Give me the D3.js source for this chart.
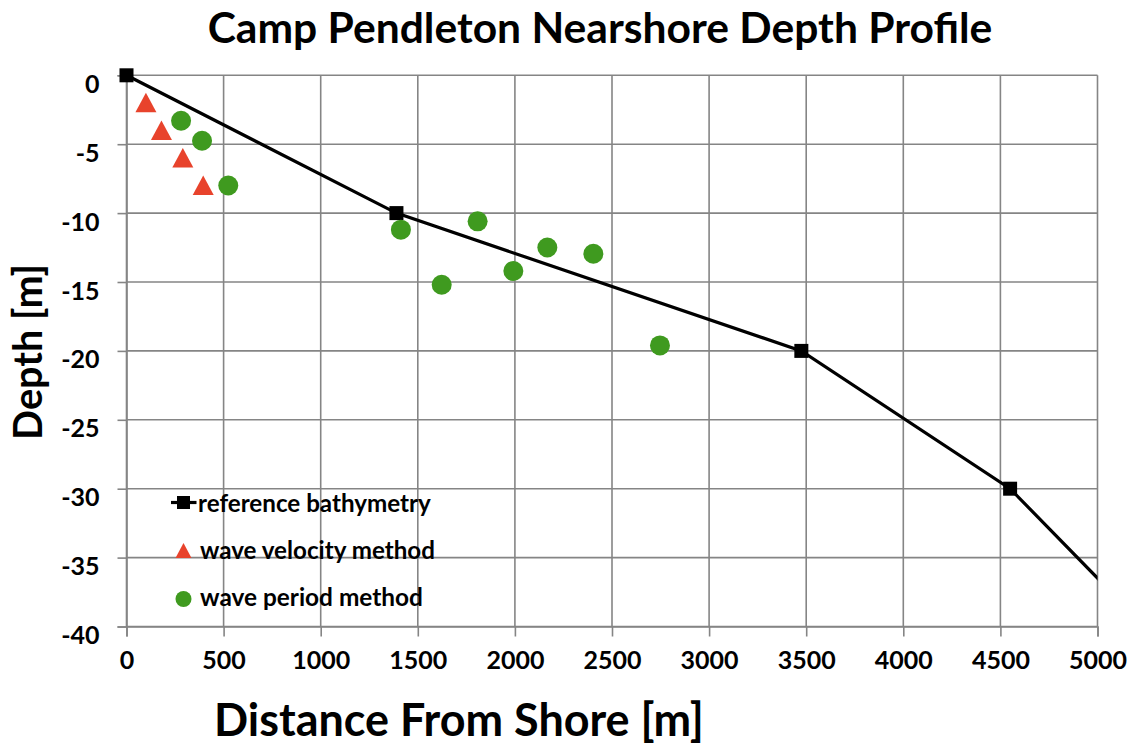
<!DOCTYPE html>
<html>
<head>
<meta charset="utf-8">
<script src="https://cdn.jsdelivr.net/npm/d3@7/dist/d3.min.js"></script>
<style>
  html, body { margin: 0; padding: 0; background: #fff; }
  svg { display: block; font-family: Lato, "Open Sans", sans-serif; font-weight: bold; }
</style>
</head>
<body>
<svg id="chart" width="1135" height="745"></svg>
<script>
// Reference bathymetry profile (distance from shore [m], depth [m])
const bathyDistance = [0, 1390, 3475, 4550, 5500];
const bathyDepth    = [0, -10, -20, -30, -43.7];

// Depth estimates from the wave velocity method
const velocityDistance = [100, 180, 290, 395];
const velocityDepth    = [-2, -4, -6, -8];

// Depth estimates from the wave period method
const periodDistance = [281, 389, 524, 1413, 1808, 1623, 1992, 2167, 2404, 2747];
const periodDepth    = [-3.3, -4.75, -8.0, -11.2, -10.6, -15.2, -14.2, -12.5, -12.95, -19.6];

const xTicks = [0, 500, 1000, 1500, 2000, 2500, 3000, 3500, 4000, 4500, 5000];
const yTicks = [0, -5, -10, -15, -20, -25, -30, -35, -40];

const legendLabels = ["reference bathymetry", "wave velocity method", "wave period method"];
const titleText = "Camp Pendleton Nearshore Depth Profile";
const xLabelText = "Distance From Shore [m]";
const yLabelText = "Depth [m]";

const RED = "#e8432c";
const GREEN = "#3f9a1f";
const GRID = "#858585";

const svg = d3.select("#chart");
const plot = { left: 126.5, right: 1097.5, top: 75.3, bottom: 626.5 };

const x = d3.scaleLinear().domain([0, 5000]).range([plot.left, plot.right]);
const y = d3.scaleLinear().domain([0, -40]).range([plot.top, plot.bottom]);

// Fit a text element's font size so it spans a given width
function fitWidth(sel, width) {
  const node = sel.node();
  const size = parseFloat(sel.attr("font-size"));
  const w = node.getComputedTextLength();
  sel.attr("font-size", size * width / w);
}

// Plain hyphen-minus tick labels
const plainFormat = d => String(d);

// Grid
svg.append("g").selectAll("line.v").data(xTicks).join("line")
  .attr("x1", d => x(d)).attr("x2", d => x(d))
  .attr("y1", plot.top).attr("y2", plot.bottom)
  .attr("stroke", GRID).attr("stroke-width", 1.6);
svg.append("g").selectAll("line.h").data(yTicks).join("line")
  .attr("x1", plot.left).attr("x2", plot.right)
  .attr("y1", d => y(d)).attr("y2", d => y(d))
  .attr("stroke", GRID).attr("stroke-width", 1.6);

// Axes
const xAxis = svg.append("g")
  .attr("transform", `translate(0,${plot.bottom})`)
  .call(d3.axisBottom(x).tickValues(xTicks).tickSize(10).tickPadding(24).tickFormat(plainFormat));
const yAxis = svg.append("g")
  .attr("transform", `translate(${plot.left},0)`)
  .call(d3.axisLeft(y).tickValues(yTicks).tickSize(9).tickPadding(18).tickFormat(plainFormat));
[xAxis, yAxis].forEach(a => {
  a.select(".domain").attr("stroke", GRID).attr("stroke-width", 1.6);
  a.selectAll(".tick line").attr("stroke", GRID).attr("stroke-width", 1.6);
  a.selectAll(".tick text").attr("fill", "#000")
    .attr("font-family", "Lato, sans-serif").attr("font-weight", "bold").attr("font-size", 25);
});
xAxis.selectAll(".tick text").attr("dy", "0.35em");
yAxis.selectAll(".tick text").attr("dy", "0.68em");

// Clip region for the profile line
svg.append("clipPath").attr("id", "plotClip")
  .append("rect")
  .attr("x", plot.left - 10).attr("y", plot.top - 10)
  .attr("width", plot.right - plot.left + 10).attr("height", plot.bottom - plot.top + 20);

const bathy = bathyDistance.map((d, i) => [d, bathyDepth[i]]);
const lineGen = d3.line().x(d => x(d[0])).y(d => y(d[1]));
const bathyG = svg.append("g").attr("clip-path", "url(#plotClip)");
bathyG.append("path").datum(bathy)
  .attr("d", lineGen).attr("fill", "none").attr("stroke", "#000").attr("stroke-width", 3.2);
bathyG.selectAll("rect").data(bathy.filter(d => d[0] <= 5000)).join("rect")
  .attr("x", d => x(d[0]) - 7).attr("y", d => y(d[1]) - 7)
  .attr("width", 14).attr("height", 14).attr("fill", "#000");

// Wave velocity method
svg.append("g").selectAll("path").data(velocityDistance.map((d, i) => [d, velocityDepth[i]])).join("path")
  .attr("d", "M0,-10L10.5,9.5L-10.5,9.5Z")
  .attr("transform", d => `translate(${x(d[0])},${y(d[1])})`)
  .attr("fill", RED);

// Wave period method
svg.append("g").selectAll("circle").data(periodDistance.map((d, i) => [d, periodDepth[i]])).join("circle")
  .attr("cx", d => x(d[0])).attr("cy", d => y(d[1])).attr("r", 10)
  .attr("fill", GREEN);

// Legend
const legend = svg.append("g");
const legY = [502.5, 550.5, 599];
const legBase = [511.5, 559, 606];
legend.append("line").attr("x1", 171).attr("x2", 196.5).attr("y1", legY[0]).attr("y2", legY[0])
  .attr("stroke", "#000").attr("stroke-width", 3.2);
legend.append("rect").attr("x", 183.5 - 6.5).attr("y", legY[0] - 6.5).attr("width", 13).attr("height", 13).attr("fill", "#000");
legend.append("path").attr("d", "M0,-7.5L8,7.5L-8,7.5Z")
  .attr("transform", `translate(183.5,${legY[1]})`).attr("fill", RED);
legend.append("circle").attr("cx", 183.5).attr("cy", legY[2]).attr("r", 8).attr("fill", GREEN);
const legendWidths = [233, 235, 223];
legendLabels.forEach((t, i) => {
  const txt = legend.append("text").attr("x", i === 0 ? 198 : 200).attr("y", legBase[i])
    .attr("font-size", 21).attr("fill", "#000").text(t);
  fitWidth(txt, legendWidths[i]);
});

// Titles
const title = svg.append("text").attr("x", 600).attr("y", 43).attr("text-anchor", "middle")
  .attr("font-size", 38).attr("fill", "#000").text(titleText);
fitWidth(title, 785);

const xLab = svg.append("text").attr("x", 459).attr("y", 736).attr("text-anchor", "middle")
  .attr("font-size", 36).attr("fill", "#000").text(xLabelText);
fitWidth(xLab, 490);

const yLab = svg.append("text").attr("transform", "translate(42,352) rotate(-90)").attr("text-anchor", "middle")
  .attr("font-size", 34).attr("fill", "#000").text(yLabelText);
fitWidth(yLab, 176);
</script>
</body>
</html>
